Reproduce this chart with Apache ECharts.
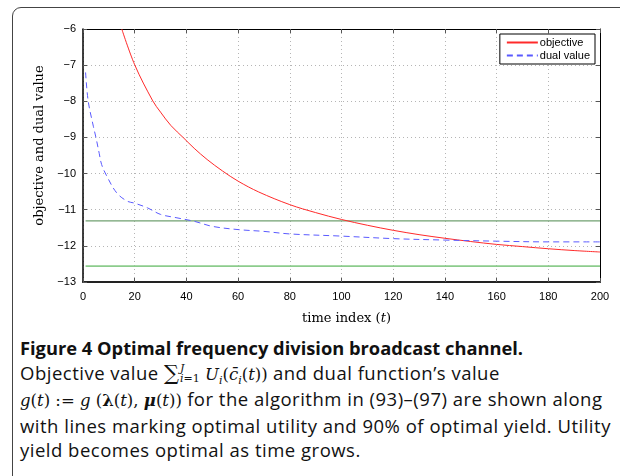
<!DOCTYPE html>
<html>
<head>
<meta charset="utf-8">
<script src="https://cdn.jsdelivr.net/npm/echarts@6/dist/echarts.min.js"></script>
<style>
  html, body { margin: 0; padding: 0; background: #fff; width: 620px; height: 476px; overflow: hidden; }
  #frame { position: absolute; left: 12px; top: 7px; width: 700px; height: 600px; border: 1px solid #444; border-top-left-radius: 9px; box-sizing: border-box; }
  #chart { position: absolute; left: 0; top: 0; width: 620px; height: 330px; }
  #caption { position: absolute; left: 20px; top: 336px; width: 600px; font-family: "Open Sans", "Noto Sans", sans-serif; font-size: 18.5px; letter-spacing: 0.5px; line-height: 24.5px; color: #111; white-space: nowrap; }
  #caption b.t { font-weight: 700; letter-spacing: 0; font-size: 18.3px; }
  .m { font-family: "DejaVu Serif", "Liberation Serif", serif; font-size: 16.5px; letter-spacing: 0; }
  .sum { font-size: 21px; }
  .ss { display: inline-block; vertical-align: middle; line-height: 10px; font-size: 11px; margin-left: 1px; margin-top: -3px; }
  sub { font-size: 11px; line-height: 0; }
</style>
</head>
<body>
<div id="frame"></div>
<div id="chart"></div>
<div id="caption">
  <div><b class="t">Figure 4 Optimal frequency division broadcast channel.</b></div>
  <div>Objective value <span class="m"><span class="sum">∑</span><span class="ss"><i>J</i><br><i>i</i>=1</span> <i>U<sub>i</sub></i>(<i>c̄<sub>i</sub></i>(<i>t</i>))</span> and dual function’s value</div>
  <div><span class="m"><i>g</i>(<i>t</i>) := <i>g</i> (<b>λ</b>(<i>t</i>), <b><i>μ</i></b>(<i>t</i>))</span> for the algorithm in (93)–(97) are shown along</div>
  <div>with lines marking optimal utility and 90% of optimal yield. Utility</div>
  <div>yield becomes optimal as time grows.</div>
</div>
<script>
// ---- data ----
var seriesNames = ['objective', 'dual value'];
var tObjective = [15, 20, 27, 30, 34, 39, 43, 48, 54, 60, 68, 80, 90, 100, 110, 120, 130, 140, 150, 160, 170, 180, 190, 200];
var objective  = [-6.0, -6.99, -7.99, -8.3, -8.67, -9.02, -9.3, -9.61, -9.93, -10.21, -10.51, -10.86, -11.08, -11.27, -11.43, -11.57, -11.69, -11.79, -11.88, -11.96, -12.02, -12.08, -12.13, -12.17];
var tDual = [1, 2, 4, 5, 6.3, 7.2, 9.2, 13, 17, 20, 25, 30, 36, 43, 50, 60, 70, 80, 100, 120, 140, 160, 180, 200];
var dual  = [-7.2, -7.99, -8.69, -9.0, -9.45, -9.75, -10.07, -10.53, -10.76, -10.82, -10.95, -11.13, -11.22, -11.32, -11.46, -11.55, -11.6, -11.67, -11.73, -11.8, -11.84, -11.87, -11.89, -11.89];
var refT = [1, 200];
var yield90 = -11.31;     // 90% of optimal yield
var optimalUtility = -12.56;
var xTicks = [0, 20, 40, 60, 80, 100, 120, 140, 160, 180, 200];
var yTicks = [-13, -12, -11, -10, -9, -8, -7, -6];

function pairs(xs, ys) { return xs.map(function (x, i) { return [x, ys[i]]; }); }
function flat(xs, v) { return xs.map(function (x) { return [x, v]; }); }

var chart = echarts.init(document.getElementById('chart'), null, { renderer: 'canvas' });
var labelFont = { fontFamily: 'Liberation Sans, Arial, sans-serif', fontSize: 11, color: '#000' };
var grid = { left: 83, right: 20, top: 29, height: 253 };
var split = { show: true, lineStyle: { color: '#b5b5b5', type: [1, 3], width: 1 } };

chart.setOption({
  animation: false,
  backgroundColor: 'transparent',
  grid: grid,
  legend: {
    data: seriesNames,
    orient: 'vertical',
    right: 25, top: 34,
    padding: [3, 5, 3, 6],
    itemWidth: 31, itemHeight: 10, itemGap: 2,
    itemStyle: { opacity: 0 },
    backgroundColor: '#fff',
    borderColor: '#000', borderWidth: 1, borderRadius: 0,
    textStyle: { fontFamily: 'Liberation Sans, Arial, sans-serif', fontSize: 11, color: '#000', padding: [0, 0, 0, -3] }
  },
  xAxis: [{
    type: 'value', min: xTicks[0], max: xTicks[xTicks.length - 1], interval: 20,
    position: 'bottom',
    name: '{n|time index (}{i|t}{n|)}', nameLocation: 'middle', nameGap: 30,
    nameTextStyle: { padding: [0, 0, 0, 10], rich: {
      n: { fontFamily: 'DejaVu Serif, serif', fontSize: 13, color: '#000' },
      i: { fontFamily: 'DejaVu Serif, serif', fontStyle: 'italic', fontSize: 13, color: '#000' } } },
    axisLine: { show: true, onZero: false, lineStyle: { color: '#222', width: 2 } },
    axisTick: { show: true, inside: true, length: 4, lineStyle: { color: '#555' } },
    axisLabel: Object.assign({ margin: 9 }, labelFont),
    splitLine: split
  }, {
    type: 'value', min: xTicks[0], max: xTicks[xTicks.length - 1], interval: 20,
    position: 'top',
    axisLine: { show: true, onZero: false, lineStyle: { color: '#000', width: 1 } },
    axisTick: { show: true, inside: true, length: 4, lineStyle: { color: '#555' } },
    axisLabel: { show: false }, splitLine: { show: false }
  }],
  yAxis: [{
    type: 'value', min: yTicks[0], max: yTicks[yTicks.length - 1], interval: 1,
    position: 'left',
    name: 'objective and dual value', nameLocation: 'middle', nameGap: 35, nameRotate: 90,
    nameTextStyle: { fontFamily: 'DejaVu Serif, serif', fontSize: 13, color: '#000', padding: [0, 0, 0, 20] },
    axisLine: { show: true, onZero: false, lineStyle: { color: '#000', width: 1.5 } },
    axisTick: { show: true, inside: true, length: 4, lineStyle: { color: '#555' } },
    axisLabel: Object.assign({ margin: 7, formatter: function (v) { return String(v).replace('-', '\u2212'); } }, labelFont),
    splitLine: split
  }, {
    type: 'value', min: yTicks[0], max: yTicks[yTicks.length - 1], interval: 1,
    position: 'right',
    axisLine: { show: true, onZero: false, lineStyle: { color: '#000', width: 1 } },
    axisTick: { show: true, inside: true, length: 4, lineStyle: { color: '#555' } },
    axisLabel: { show: false }, splitLine: { show: false }
  }],
  series: [{
    name: seriesNames[0], type: 'line', data: pairs(tObjective, objective),
    smooth: 0.35, symbol: 'none', clip: true,
    lineStyle: { color: '#ff2a2a', width: 1 }, itemStyle: { color: '#ff2a2a' }, z: 4
  }, {
    name: seriesNames[1], type: 'line', data: pairs(tDual, dual),
    smooth: 0.35, symbol: 'none', clip: true,
    lineStyle: { color: '#5a5aff', width: 1, type: [6, 4] }, itemStyle: { color: '#5a5aff' }, z: 5
  }, {
    name: '90% optimal', type: 'line', data: flat(refT, yield90), symbol: 'none',
    lineStyle: { color: '#70a070', width: 1.2 }, z: 3
  }, {
    name: 'optimal', type: 'line', data: flat(refT, optimalUtility), symbol: 'none',
    lineStyle: { color: '#8ccc8c', width: 1.6 }, z: 3
  }]
});
</script>
</body>
</html>
